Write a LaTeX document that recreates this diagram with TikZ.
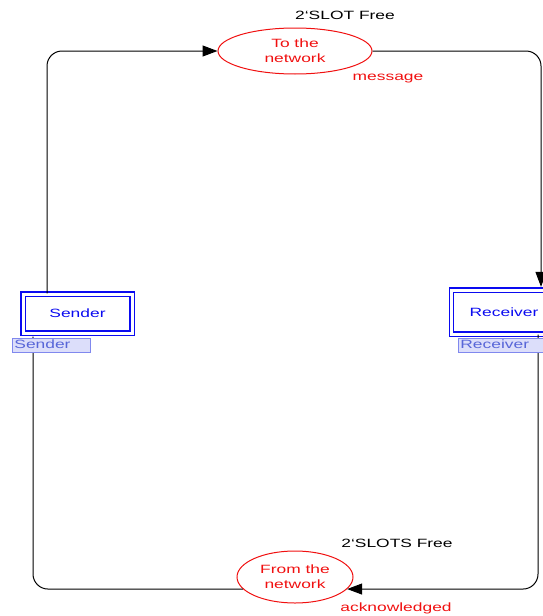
\documentclass[tikz,border=0pt]{standalone}
\usepackage{fontspec}
\setmainfont{Liberation Sans}[FakeStretch=1.45]
\usetikzlibrary{shapes.geometric,arrows.meta,calc}
\definecolor{netred}{HTML}{F01010}
\definecolor{modblue}{HTML}{0A0AF0}
\definecolor{tagfill}{HTML}{DCDEFA}
\definecolor{tagdraw}{HTML}{8088EE}
\definecolor{tagtext}{HTML}{5866D8}
\begin{document}
\begin{tikzpicture}[x=1pt,y=-1pt,
  every node/.style={font=\fontsize{12}{15}\selectfont},
  place/.style={ellipse, draw=netred, line width=1pt, text=netred, align=center, inner sep=0pt},
  subst/.style={rectangle, draw=modblue, double=white, double distance=3pt, line width=1.1pt, text=modblue, inner sep=0pt},
  portlbl/.style={rectangle, fill=tagfill, draw=tagdraw, line width=0.8pt, text=tagtext, inner xsep=2pt, inner ysep=0pt,
    minimum height=14pt, anchor=west, text height=9pt, text depth=2.5pt, align=left},
  flow/.style={draw=black, line width=1pt, rounded corners=15pt, -{Triangle[length=15pt,width=11pt]}},
  inscr/.style={text=black},
  redinscr/.style={text=netred}]
\useasboundingbox (0,0) rectangle (543,616);
\clip (0,0) rectangle (543,616);

% places and substitution transitions
\node[place, minimum width=154pt, minimum height=46pt] (tonet) at (295,51) {To the\\network};
\node[place, minimum width=116pt, minimum height=52pt] (fromnet) at (295,577) {From the\\network};
\node[subst, minimum width=109pt, minimum height=39pt] (snd) at (77.5,313.5) {Sender};
\node[subst, minimum width=105pt, minimum height=44pt] (rcv) at (504,312) {Receiver};

% arcs
\draw[flow] ([xshift=-30.5pt]snd.north) |- (tonet.west);
\draw[flow, shorten >=2.6pt] (tonet.east) -| ([xshift=37pt]rcv.north);
\draw[flow] ([xshift=34pt]rcv.south) |- (fromnet.-13.5);
\draw[flow, shorten >=2.6pt] (fromnet.193.5) -| ([xshift=-44.5pt]snd.south);

% subpage tags
\node[portlbl, text width=74pt] (sndtag) at (12,345) {Sender};
\node[portlbl, text width=90pt] (rcvtag) at (458,345.5) {Receiver};

% inscriptions
\node[inscr] (slotfree) at (345,15) {2\char96 SLOT Free};
\node[redinscr] (msg) at (388,79) {message};
\node[inscr] (slotsfree) at (397,543) {2\char96 SLOTS Free};
\node[redinscr] (ack) at (396,608) {acknowledged};
\end{tikzpicture}
\end{document}
